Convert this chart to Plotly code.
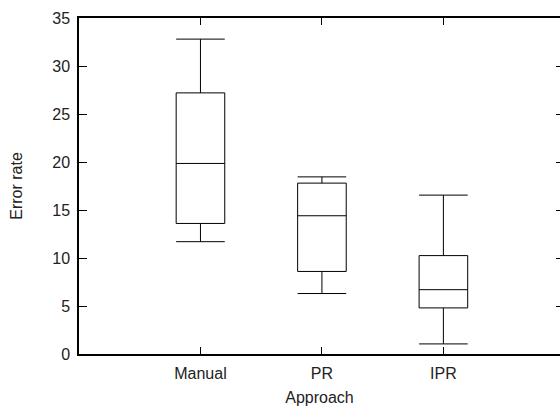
import plotly.graph_objects as go

categories = ["Manual", "PR", "IPR"]
positions = [1, 2, 3]
lower_whisker = [11.7, 6.3, 1.05]
q1 = [13.6, 8.6, 4.8]
median = [19.85, 14.4, 6.7]
q3 = [27.2, 17.8, 10.25]
upper_whisker = [32.8, 18.45, 16.55]
y_ticks = [0, 5, 10, 15, 20, 25, 30, 35]

fig = go.Figure()
fig.add_trace(go.Box(
    x=positions,
    q1=q1, median=median, q3=q3,
    lowerfence=lower_whisker, upperfence=upper_whisker,
    width=0.4, whiskerwidth=1,
    line=dict(color="black", width=1),
    fillcolor="rgba(0,0,0,0)",
    boxpoints=False,
    showlegend=False,
    hoverinfo="skip",
))
# invisible helper trace so the right-hand tick axis is drawn
fig.add_trace(go.Scatter(x=[positions[0]], y=[y_ticks[0]], yaxis="y2",
                         mode="markers", marker=dict(opacity=0),
                         showlegend=False, hoverinfo="skip"))

font = dict(family="Liberation Sans, Arial, sans-serif", size=16, color="#222")
fig.update_layout(
    width=560, height=408,
    margin=dict(l=79, r=0, t=18, b=54, autoexpand=False),
    paper_bgcolor="white", plot_bgcolor="white",
    font=font,
    xaxis=dict(
        range=[0, 3.96], tickvals=positions, ticktext=categories,
        ticks="inside", ticklen=7, tickcolor="black", tickwidth=1,
        showline=True, linecolor="black", linewidth=1.5, mirror="ticks",
        showgrid=False, zeroline=False, automargin=False,
        ticklabelstandoff=4,
        title=dict(text="Approach", standoff=11, font=font),
    ),
    yaxis=dict(
        range=[0, 35], tickvals=y_ticks,
        ticks="inside", ticklen=8, tickcolor="black", tickwidth=1,
        showline=True, linecolor="black", linewidth=1.5, mirror=False,
        showgrid=False, zeroline=False, automargin=False,
        ticklabelstandoff=4,
        title=dict(text="Error rate", standoff=26, font=font),
    ),
    yaxis2=dict(
        range=[0, 35], tickvals=y_ticks, overlaying="y", side="right",
        ticks="inside", ticklen=4, tickcolor="black", tickwidth=1,
        showline=False, showticklabels=False, showgrid=False,
        zeroline=False, automargin=False,
    ),
)
fig.write_html("out.html", config={"displayModeBar": False},
               post_script="document.body.style.margin='0';")
